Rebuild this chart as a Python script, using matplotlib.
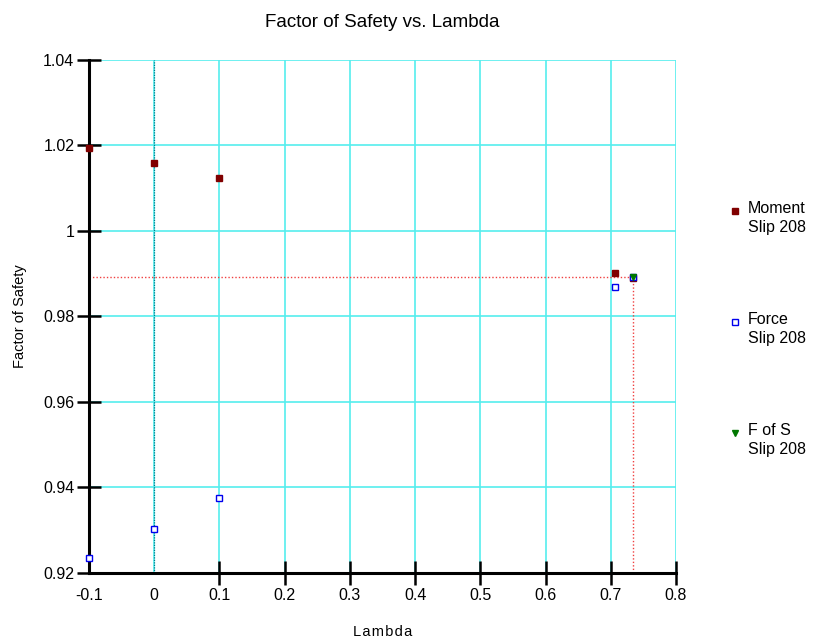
import matplotlib
matplotlib.use('Agg')
import matplotlib.pyplot as plt
from matplotlib.lines import Line2D

plt.rcParams['font.family'] = ['Liberation Sans', 'DejaVu Sans']

# lambda values and the two factor-of-safety curves for slip 208
lam = [-0.1, 0.0, 0.1, 0.707, 0.734]
fs_moment = [1.0194, 1.0159, 1.0124, 0.9902, 0.9891]
fs_force = [0.9235, 0.9302, 0.9375, 0.9870, 0.9893]

# converged solution (moment = force)
lam_fs = [0.734]
fs_fs = [0.9893]

xticks = [-0.1, 0, 0.1, 0.2, 0.3, 0.4, 0.5, 0.6, 0.7, 0.8]
xtick_labels = ['-0.1', '0', '0.1', '0.2', '0.3', '0.4', '0.5', '0.6', '0.7', '0.8']
yticks = [0.92, 0.94, 0.96, 0.98, 1.0, 1.02, 1.04]
ytick_labels = ['0.92', '0.94', '0.96', '0.98', '1', '1.02', '1.04']

fig = plt.figure(figsize=(8.13, 6.41), dpi=100)
ax = fig.add_axes([0.1095, 0.1061, 0.722, 0.8003])

ax.set_xlim(-0.1, 0.8)
ax.set_ylim(0.92, 1.04)

# grid
for x in xticks:
    if x == -0.1:
        continue
    ax.axvline(x, color='#55eeee', lw=1.2, zorder=1)
for y in yticks:
    if y == 0.92:
        continue
    ax.axhline(y, color='#55eeee', lw=1.2, zorder=1)
ax.axvline(0, color='#007a8a', lw=0.9, ls=(0, (1, 1)), zorder=1.5)

# crosshair at the converged point
ax.plot([-0.1, lam_fs[0]], [fs_fs[0], fs_fs[0]], color='#f04040', lw=1.0,
        ls=(0, (1, 1.5)), zorder=2)
ax.plot([lam_fs[0], lam_fs[0]], [0.92, fs_fs[0]], color='#f04040', lw=1.0,
        ls=(0, (1, 1.5)), zorder=2)

ax.plot(lam, fs_moment, 's', ms=5, color='#800000', mec='#800000', zorder=3,
        clip_on=False)
ax.plot(lam, fs_force, 's', ms=5, mfc='white', mec='#0000ee', mew=1,
        zorder=4, clip_on=False)
ax.plot(lam_fs, fs_fs, 'v', ms=5, color='#007700', zorder=5, clip_on=False)

for side in ['top', 'right']:
    ax.spines[side].set_visible(False)
for side in ['left', 'bottom']:
    ax.spines[side].set_linewidth(2.2)

ax.set_xticks(xticks)
ax.set_xticklabels(xtick_labels)
ax.set_yticks(yticks)
ax.set_yticklabels(ytick_labels)
ax.tick_params(direction='inout', length=17, width=1.8, labelsize=11.5,
               pad=2)
ax.xaxis.get_major_ticks()[1].tick1line.set_visible(False)
ax.xaxis.get_major_ticks()[0].tick1line.set_visible(False)

ax.set_title('Factor of Safety vs. Lambda', fontsize=13.5, pad=24)
ax.set_xlabel('L a m b d a'.replace(' ', '\u200a'), fontsize=10.5,
              labelpad=16)
ax.set_ylabel('Factor of Safety', fontsize=10.5, labelpad=12)

# side legend
entries = [
    ('s', '#800000', '#800000', 'Moment\nSlip 208', 211),
    ('s', 'white', '#0000ee', 'Force\nSlip 208', 322),
    ('v', '#007700', '#007700', 'F of S\nSlip 208', 433),
]
H = 641.0
W = 813.0
for marker, fc, ec, label, ypx in entries:
    fig.add_artist(Line2D([735 / W], [1 - ypx / H], marker=marker, ms=5,
                          mfc=fc, mec=ec, ls='none',
                          transform=fig.transFigure))
    fig.text(748 / W, 1 - (ypx - 10) / H, label, fontsize=11.5, va='top',
             ha='left', linespacing=1.3)

fig.savefig('out.png', dpi=100)
